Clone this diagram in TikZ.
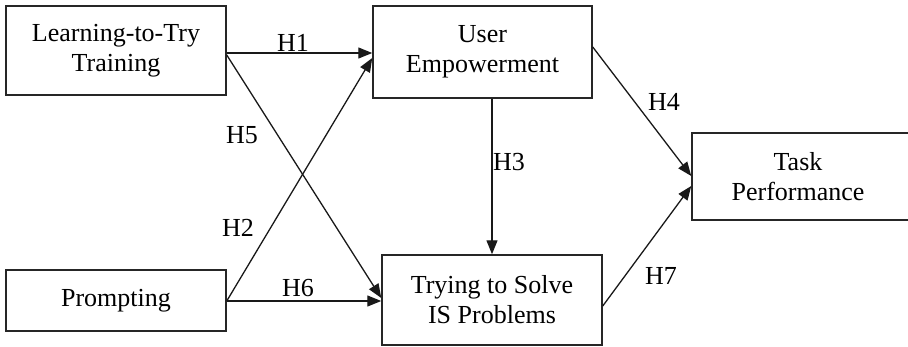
\documentclass[tikz,border=0pt]{standalone}
\usepackage{fontspec}
\setmainfont{Liberation Serif}
\usetikzlibrary{arrows.meta}
\begin{document}
\begin{tikzpicture}[x=1pt,y=-1pt,
  box/.style={draw=black!85,line width=1.5pt,rectangle,inner sep=0pt,align=center,
    font=\fontsize{26}{30}\selectfont},
  lbl/.style={inner sep=0pt,font=\fontsize{26}{30}\selectfont},
  arr/.style={line width=1.3pt,draw=black!90,-{Triangle[length=14pt,width=11pt]}}]
\useasboundingbox (0,0) rectangle (908,346);
\node[box,minimum width=220pt,minimum height=89pt] (b1) at (116,50.5) {Learning-to-Try\\Training};
\node[box,minimum width=219pt,minimum height=92pt] (b2) at (482.5,52) {User\\Empowerment};
\node[box,minimum width=220pt,minimum height=87pt] (b3) at (802,176.5) {};
\node[lbl,align=center] (t3) at (798,176.5) {Task\\Performance};
\node[box,minimum width=220pt,minimum height=61pt] (b4) at (116,300.5) {Prompting};
\node[box,minimum width=220pt,minimum height=90pt] (b5) at (492,300) {Trying to Solve\\IS Problems};
\draw[arr] ([yshift=-2.5pt]b1.east) -- ([yshift=-1pt]b2.west);
\draw[arr] ([yshift=-4.5pt]b1.east) -- ([yshift=2pt]b5.west);
\draw[arr] ([yshift=-0.5pt]b4.east) -- ([yshift=-6pt]b2.west);
\draw[arr] ([yshift=-0.5pt]b4.east) -- ([yshift=-1pt]b5.west);
\draw[arr] ([xshift=9.5pt]b2.south) -- (b5.north);
\draw[arr] ([yshift=5pt]b2.east) -- ([yshift=0.5pt]b3.west);
\draw[arr] ([yshift=-6pt]b5.east) -- ([yshift=-9.5pt]b3.west);
\node[lbl] (h1) at (293,43) {H1};
\node[lbl] (h5) at (242,135) {H5};
\node[lbl] (h2) at (238,228) {H2};
\node[lbl] (h6) at (298,288) {H6};
\node[lbl] (h3) at (509,162) {H3};
\node[lbl] (h4) at (664,102) {H4};
\node[lbl] (h7) at (661,276) {H7};
\end{tikzpicture}
\end{document}
